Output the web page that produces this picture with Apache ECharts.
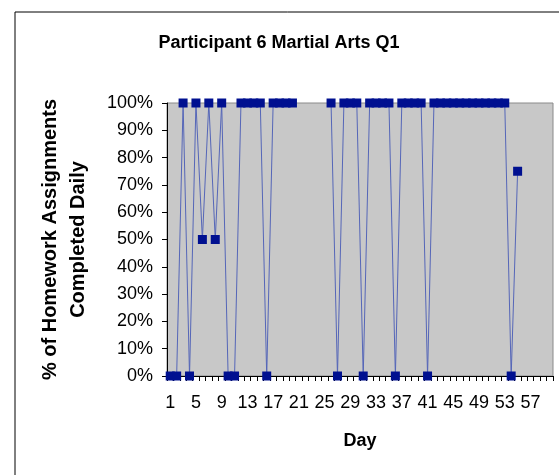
<!DOCTYPE html>
<html>
<head>
<meta charset="utf-8">
<script src="https://cdn.jsdelivr.net/npm/echarts@6/dist/echarts.min.js"></script>
<style>
html,body{margin:0;padding:0;background:#fff;}
#chart{width:559px;height:475px;}
</style>
</head>
<body>
<div id="chart"></div>
<script>
var days = [];
for (var d = 1; d <= 60; d++) days.push(String(d));
var completed = [
  0, 0, 100, 0, 100, 50, 100, 50, 100, 0,
  0, 100, 100, 100, 100, 0, 100, 100, 100, 100,
  null, null, null, null, null, 100, 0, 100, 100, 100,
  0, 100, 100, 100, 100, 0, 100, 100, 100, 100,
  0, 100, 100, 100, 100, 100, 100, 100, 100, 100,
  100, 100, 100, 0, 75, null, null, null, null, null
];
var yTicks = [0, 10, 20, 30, 40, 50, 60, 70, 80, 90, 100];

var FONT = 'Arial, "Liberation Sans", sans-serif';
var chart = echarts.init(document.getElementById('chart'));
chart.setOption({
  animation: false,
  backgroundColor: '#ffffff',
  graphic: [{
    type: 'rect',
    shape: { x: 15, y: 12, width: 600, height: 500 },
    style: { fill: 'none', stroke: '#000', lineWidth: 1 },
    silent: true, z: -1
  }],
  title: {
    text: 'Participant 6 Martial Arts Q1',
    left: 274, top: 29, textAlign: 'center',
    textStyle: { fontFamily: FONT, fontSize: 18, fontWeight: 'bold', color: '#000' }
  },
  grid: {
    left: 167, right: 6, top: 103, bottom: 99,
    show: true, backgroundColor: '#C8C8C8', borderColor: '#8a8a8a', borderWidth: 1
  },
  xAxis: {
    type: 'category',
    data: days,
    boundaryGap: true,
    name: 'Day',
    nameLocation: 'middle',
    nameGap: 56,
    nameTextStyle: { fontFamily: FONT, fontSize: 18, fontWeight: 'bold', color: '#000' },
    axisLine: { lineStyle: { color: '#000', width: 1 } },
    axisTick: { show: true, interval: 0, length: 5, lineStyle: { color: '#000' } },
    axisLabel: { interval: 3, margin: 18, fontFamily: FONT, fontSize: 18, color: '#000' },
    splitLine: { show: false }
  },
  yAxis: {
    type: 'value',
    min: yTicks[0], max: yTicks[yTicks.length - 1], interval: 10,
    name: '% of Homework Assignments\nCompleted Daily',
    nameLocation: 'middle',
    nameGap: 75,
    nameTextStyle: { fontFamily: FONT, fontSize: 20, fontWeight: 'bold', color: '#000', lineHeight: 28 },
    axisLine: { show: true, lineStyle: { color: '#000', width: 1 } },
    axisTick: { show: true, length: 5, lineStyle: { color: '#000' } },
    axisLabel: { margin: 14, fontFamily: FONT, fontSize: 18, color: '#000', formatter: '{value}%' },
    splitLine: { show: false }
  },
  series: [{
    type: 'line',
    data: completed,
    connectNulls: false,
    showSymbol: true,
    showAllSymbol: true,
    symbol: 'rect',
    symbolSize: 9,
    itemStyle: { color: '#001090' },
    lineStyle: { color: '#5566B8', width: 1 },
    z: 3
  }]
});
</script>
</body>
</html>
